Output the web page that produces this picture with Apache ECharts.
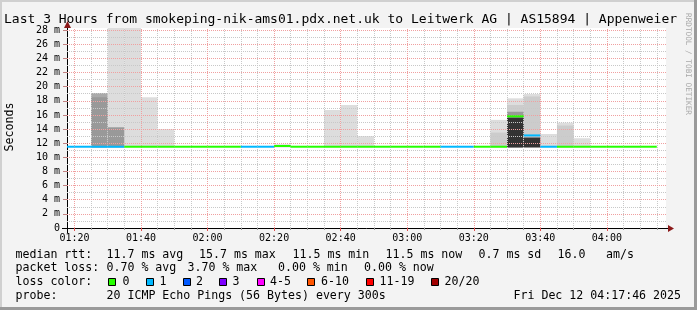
<!DOCTYPE html>
<html>
<head>
<meta charset="utf-8">
<script src="https://cdn.jsdelivr.net/npm/echarts@6/dist/echarts.min.js"></script>
<style>
html,body{margin:0;padding:0;background:#f3f3f3;}
#c{width:697px;height:310px;}
</style>
</head>
<body>
<div id="c"></div>
<script>
// ---------------- DATA ----------------
const titleText = 'Last 3 Hours from smokeping-nik-ams01.pdx.net.uk to Leitwerk AG | AS15894 | Appenweier';
const timeStart = '01:17:46';
const timeEnd = '04:17:46';
const bucketStarts = ['01:15','01:20','01:25','01:30','01:35','01:40','01:45','01:50','01:55',
  '02:00','02:05','02:10','02:15','02:20','02:25','02:30','02:35','02:40','02:45','02:50','02:55',
  '03:00','03:05','03:10','03:15','03:20','03:25','03:30','03:35','03:40','03:45','03:50','03:55',
  '04:00','04:05','04:10'];
// median rtt (ms) per 5-minute bucket
const medianMs = [11.5,11.5,11.5,11.5,11.5,11.5,11.5,11.5,11.5,
  11.5,11.5,11.5,11.5,11.6,11.5,11.5,11.5,11.5,11.5,11.5,11.5,
  11.5,11.5,11.5,11.5,11.5,11.5,15.8,13.1,11.5,11.5,11.5,11.5,
  11.5,11.5,11.5];
// lost pings (of 20) per bucket
const lossCount = [1,1,1,1,0,0,0,0,0,
  0,0,1,1,0,0,0,0,0,0,0,0,
  0,0,1,1,0,0,0,1,1,0,0,0,
  0,0,0];
// smoke: lowest ping and tops of the grey bands (ms), null = no band
const smokeMin = [11.4,11.4,11.4,11.4,11.4,11.4,11.4,11.4,11.4,
  11.4,11.4,11.4,11.4,11.4,11.4,11.4,11.4,11.4,11.4,11.4,11.4,
  11.4,11.4,11.4,11.4,11.4,11.4,11.4,11.4,11.4,11.4,11.4,11.4,
  11.4,11.4,11.4];
const smokeLight = [null,null,null,30,30,18.5,14.0,null,null,
  null,null,null,null,11.85,null,null,16.7,17.4,13.0,null,null,
  null,null,null,null,null,15.3,18.35,18.95,13.3,14.9,12.7,null,
  null,null,null];
const smokeLight2 = [null,null,null,null,null,null,null,null,null,
  null,null,null,null,null,null,null,null,null,null,null,null,
  null,null,null,null,null,13.5,17.4,18.6,null,14.5,null,null,
  null,null,null];
const smokeMid = [null,null,19.1,null,null,null,null,null,null,
  null,null,null,null,null,null,null,null,null,null,null,null,
  null,null,null,null,null,null,null,null,null,null,null,null,
  null,null,null];
const smokeDark = [null,null,18.5,14.25,null,null,null,null,null,
  null,null,null,null,null,null,null,null,null,null,null,null,
  null,null,null,null,null,null,16.45,null,null,null,null,null,
  null,null,null];
const smokeBlack = [null,null,null,null,null,null,null,null,null,
  null,null,null,null,null,null,null,null,null,null,null,null,
  null,null,null,null,null,null,15.6,12.8,null,null,null,null,
  null,null,null];
const xTickLabels = ['01:20','01:40','02:00','02:20','02:40','03:00','03:20','03:40','04:00'];
const yTickValues = [0,2,4,6,8,10,12,14,16,18,20,22,24,26,28];
const lossLegendLabels = ['0','1','2','3','4-5','6-10','11-19','20/20'];
const lossLegendColors = ['#26ff00','#00b8ff','#0059ff','#7e00ff','#ff00ff','#ff5500','#ff0000','#a10000'];
const rttLine = ['median rtt:','11.7 ms avg','15.7 ms max','11.5 ms min','11.5 ms now','0.7 ms sd','16.0','am/s'];
const lossLine = ['packet loss:','0.70 % avg','3.70 % max','0.00 % min','0.00 % now'];
const probeLine = ['probe:','20 ICMP Echo Pings (56 Bytes) every 300s'];
const dateText = 'Fri Dec 12 04:17:46 2025';
const creditText = 'RRDTOOL / TOBI OETIKER';

// ---------------- HELPERS ----------------
function toMin(s){const p=s.split(':').map(Number);return p[0]*60+p[1]+(p.length>2?p[2]/60:0);}
const STEP = 5;
function lossColor(n){
  if(n<=0) return lossLegendColors[0];
  if(n===1) return lossLegendColors[1];
  if(n===2) return lossLegendColors[2];
  if(n===3) return lossLegendColors[3];
  if(n<=5) return lossLegendColors[4];
  if(n<=10) return lossLegendColors[5];
  if(n<=19) return lossLegendColors[6];
  return lossLegendColors[7];
}
function bandData(tops){
  const out=[];
  tops.forEach((v,i)=>{ if(v!=null){ const t=toMin(bucketStarts[i]); out.push([t,t+STEP,smokeMin[i],v]); } });
  return out;
}
function rectItem(params, api){
  const p0 = api.coord([api.value(0), api.value(3)]);
  const p1 = api.coord([api.value(1), api.value(2)]);
  const cs = params.coordSys;
  const shape = echarts.graphic.clipRectByRect(
    {x:p0[0], y:p0[1], width:p1[0]-p0[0], height:p1[1]-p0[1]},
    {x:cs.x, y:cs.y, width:cs.width, height:cs.height});
  if(!shape) return;
  return {type:'rect', shape:shape, style:{fill:api.visual('color')}};
}
function smokeSeries(tops, color){
  return {type:'custom', renderItem:rectItem, data:bandData(tops), itemStyle:{color:color},
    encode:{x:[0,1], y:[2,3]}, z:1, silent:true, animation:false};
}
const medianData = medianMs.map((m,i)=>{const t=toMin(bucketStarts[i]); return [t,t+STEP,m,lossCount[i]];});

const xMin = toMin(timeStart), xMax = toMin(timeEnd);
const xMajor = xTickLabels.map(toMin);
const xMinor = [];
for(let v=toMin('01:20'); v<=xMax; v+=5){ if(xMajor.indexOf(v)<0) xMinor.push(v); }
const yMinor = [];
for(let v=1; v<28; v+=2) yMinor.push(v);
const yMajor = yTickValues.filter(v=>v>0);

const FONT = '"DejaVu Sans Mono", monospace';
const MINOR_C = '#c8c8c8', MAJOR_C = '#f0a0a0';
function gl(c){return {color:c, width:1, type:[1,1]};}
const gridLines = []
  .concat(xMinor.map(v=>({xAxis:v, lineStyle:gl(MINOR_C)})))
  .concat(yMinor.map(v=>({yAxis:v, lineStyle:gl(MINOR_C)})))
  .concat(xMajor.map(v=>({xAxis:v, lineStyle:gl(MAJOR_C)})))
  .concat(yMajor.map(v=>({yAxis:v, lineStyle:gl(MAJOR_C)})));

const chart = echarts.init(document.getElementById('c'), null, {renderer:'canvas', width:697, height:310});

const option = {
  animation:false,
  backgroundColor:'#f3f3f3',
  grid:{left:67, right:31, top:28, bottom:82, show:true, backgroundColor:'#ffffff', borderWidth:0},
  xAxis:[{
    type:'value', min:xMin, max:xMax,
    axisLine:{show:true, lineStyle:{color:'#000', width:1}},
    axisTick:{show:true, customValues:xMajor, length:3, lineStyle:{color:'#e05050'}},
    axisLabel:{show:true, customValues:xMajor, margin:5, color:'#000', fontFamily:FONT, fontSize:10,
      formatter:function(v){const h=Math.floor(v/60), m=Math.round(v%60); return (h<10?'0':'')+h+':'+(m<10?'0':'')+m;}},
    splitLine:{show:false}
  },{
    type:'value', min:xMin, max:xMax, position:'bottom',
    axisLine:{show:false},
    axisTick:{show:true, customValues:xMinor, length:2, lineStyle:{color:'#999'}},
    axisLabel:{show:false}, splitLine:{show:false}
  }],
  yAxis:[{
    type:'value', min:0, max:28.3,
    axisLine:{show:true, lineStyle:{color:'#000', width:1}},
    axisTick:{show:true, customValues:yTickValues, length:4, lineStyle:{color:'#c08080'}},
    axisLabel:{show:true, customValues:yTickValues, margin:7, color:'#000', fontFamily:FONT, fontSize:10,
      formatter:function(v){return v===0?'0':v+' m';}},
    splitLine:{show:false}
  }],
  series:[
    smokeSeries(smokeLight,'#dddddd'),
    smokeSeries(smokeLight2,'#cccccc'),
    smokeSeries(smokeMid,'#aaaaaa'),
    smokeSeries(smokeDark,'#999999'),
    smokeSeries(smokeBlack,'#333333'),
    {type:'line', data:[], z:3, silent:true,
      markLine:{silent:true, symbol:['none','none'], label:{show:false}, animation:false,
        emphasis:{disabled:true}, data:gridLines}},
    {type:'custom', data:medianData, encode:{x:[0,1], y:2}, z:5, silent:true,
      renderItem:function(params, api){
        const p0 = api.coord([api.value(0), api.value(2)]);
        const p1 = api.coord([api.value(1), api.value(2)]);
        const cs = params.coordSys;
        const shape = echarts.graphic.clipRectByRect(
          {x:p0[0], y:p0[1]-1, width:p1[0]-p0[0], height:2},
          {x:cs.x, y:cs.y, width:cs.width, height:cs.height});
        if(!shape) return;
        return {type:'rect', shape:shape, style:{fill:lossColor(api.value(3))}};
      }}
  ]
};
chart.setOption(option);

// ---------------- DECORATION / TEXT ----------------
const g = [];
function txt(s, x, y, size, opts){
  opts = opts || {};
  g.push({type:'text', x:x, y:y, rotation:opts.rot||0, silent:true, z:10,
    style:{text:s, fill:opts.color||'#000', font:size+'px '+FONT,
      textAlign:opts.align||'left', textVerticalAlign:'middle'}});
}
// border
g.push({type:'rect', shape:{x:0,y:0,width:697,height:2}, style:{fill:'#d0d0d0'}, silent:true});
g.push({type:'rect', shape:{x:0,y:0,width:2,height:310}, style:{fill:'#d0d0d0'}, silent:true});
g.push({type:'rect', shape:{x:694,y:0,width:3,height:310}, style:{fill:'#9a9a9a'}, silent:true});
g.push({type:'rect', shape:{x:0,y:307,width:697,height:3}, style:{fill:'#9a9a9a'}, silent:true});

txt(titleText, 4, 19.5, 13);
txt('Seconds', 10, 127, 11.6, {rot:Math.PI/2, align:'center'});
txt(creditText, 688, 64, 7.7, {rot:-Math.PI/2, align:'center', color:'#a8a8a8'});

const ROW = [254.5, 268.3, 282.1, 295.9];
const rttX = [16,107,199.5,293,386,479,558,606.5];
rttLine.forEach((s,i)=>txt(s, rttX[i]-0.5, ROW[0], 11.6));
const lossX = [16,107,188,278.5,364.5];
lossLine.forEach((s,i)=>txt(s, lossX[i]-0.5, ROW[1], 11.6));
txt('loss color:', 15.5, ROW[2], 11.6);
const boxX = [108.3,145.7,182.7,219.3,256.7,307.3,365.7,430.7];
const boxLabelX = [123,160,196.5,233,270.5,321.5,380,445];
lossLegendLabels.forEach((s,i)=>{
  g.push({type:'rect', shape:{x:Math.round(boxX[i])+0.5, y:278.5, width:7, height:7},
    style:{fill:lossLegendColors[i], stroke:'#000', lineWidth:1}, silent:true, z:10});
  txt(s, boxLabelX[i]-0.5, ROW[2], 11.6);
});
txt(probeLine[0], 15.5, ROW[3], 11.6);
txt(probeLine[1], 106.5, ROW[3], 11.6);
txt(dateText, 681, ROW[3], 11.6, {align:'right'});

// axis arrows, placed from the axis scales
const origin = chart.convertToPixel({xAxisIndex:0, yAxisIndex:0}, [xMin, 0]);
const topPt = chart.convertToPixel({xAxisIndex:0, yAxisIndex:0}, [xMin, 28.3]);
const endPt = chart.convertToPixel({xAxisIndex:0, yAxisIndex:0}, [xMax, 0]);
const AR = '#8b1a1a';
g.push({type:'line', shape:{x1:origin[0]-5, y1:origin[1]+0.5, x2:origin[0], y2:origin[1]+0.5}, style:{stroke:'#000', lineWidth:1}, silent:true, z:9});
g.push({type:'line', shape:{x1:origin[0]+0.5, y1:origin[1], x2:origin[0]+0.5, y2:origin[1]+5}, style:{stroke:'#000', lineWidth:1}, silent:true, z:9});
g.push({type:'line', shape:{x1:endPt[0], y1:endPt[1]+0.5, x2:endPt[0]+3, y2:endPt[1]+0.5}, style:{stroke:'#000', lineWidth:1}, silent:true, z:9});
g.push({type:'polygon', shape:{points:[[endPt[0]+2,endPt[1]-3],[endPt[0]+8,endPt[1]+0.5],[endPt[0]+2,endPt[1]+4]]},
  style:{fill:AR}, silent:true, z:10});
g.push({type:'polygon', shape:{points:[[topPt[0]-3,topPt[1]],[topPt[0]+0.5,topPt[1]-7],[topPt[0]+4,topPt[1]]]},
  style:{fill:AR}, silent:true, z:10});

chart.setOption({graphic:{elements:g}});
</script>
</body>
</html>
